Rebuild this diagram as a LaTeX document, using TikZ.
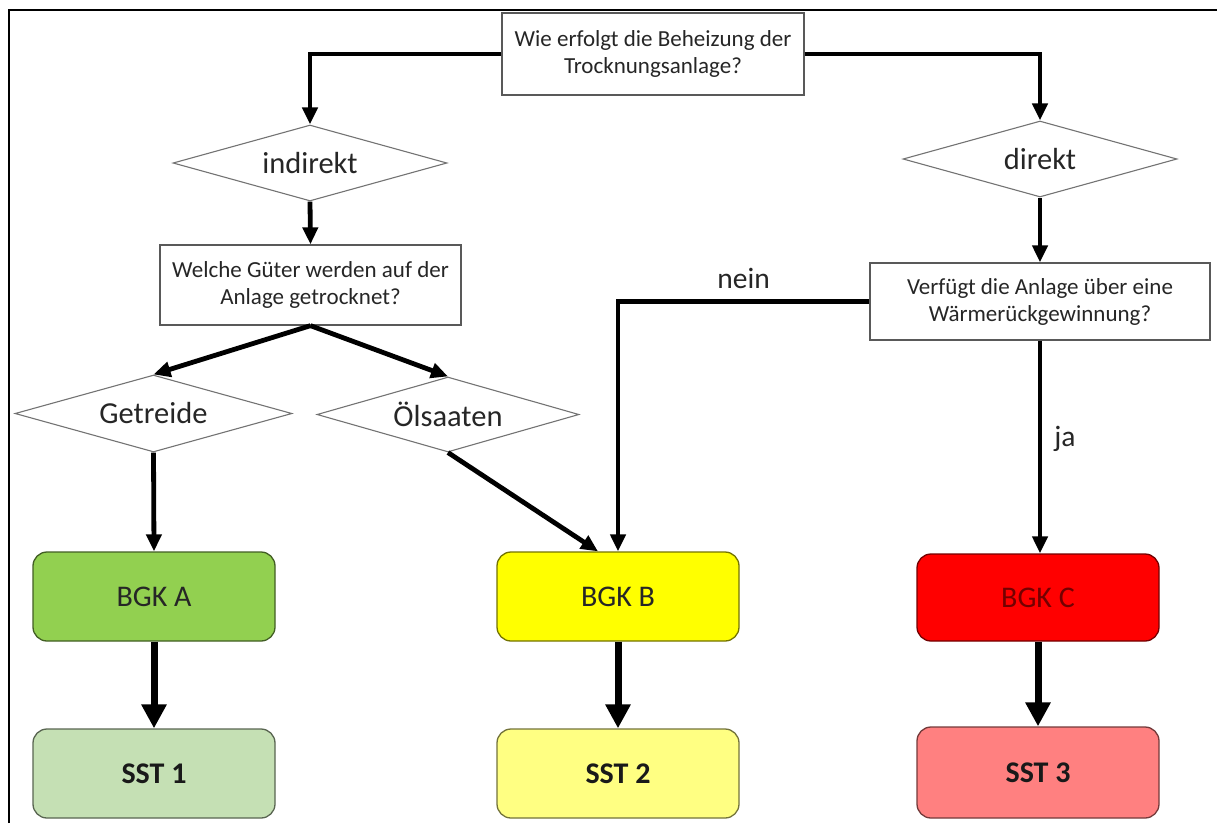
\documentclass[tikz,border=0pt]{standalone}
\usepackage{fontspec}
\setmainfont{Carlito}
\usetikzlibrary{shapes.geometric,arrows.meta,calc}
\definecolor{txt}{HTML}{262626}
\definecolor{bgkA}{HTML}{92D050}
\definecolor{sstA}{HTML}{C5E0B4}
\definecolor{bgkB}{HTML}{FFFF00}
\definecolor{sstB}{HTML}{FFFF82}
\definecolor{bgkC}{HTML}{FF0000}
\definecolor{sstC}{HTML}{FF8080}
\tikzset{
  qbox/.style={draw=black!65, line width=1.3pt, fill=white, inner sep=0pt, align=center,
    text=txt, font=\fontsize{23}{27}\selectfont},
  dia/.style={diamond, draw=black!55, line width=1.1pt, fill=white, inner sep=0pt,
    minimum width=274pt, minimum height=76pt, aspect=3.6, text=txt,
    font=\fontsize{30.5}{34}\selectfont},
  rbox/.style={rectangle, rounded corners=14pt, line width=1.3pt, minimum width=242pt,
    minimum height=89pt, inner sep=0pt, text=txt, font=\fontsize{30}{34}\selectfont},
  sbox/.style={rbox, font=\bfseries\fontsize{30}{34}\selectfont, text=black!90},
  conn/.style={line width=4.8pt, -{Triangle[length=17pt,width=15pt]}},
  bigconn/.style={line width=7pt, -{Triangle[length=24pt,width=24pt]}},
  lab/.style={text=txt, font=\fontsize{29.5}{32}\selectfont, inner sep=0pt}
}
\begin{document}
\begin{tikzpicture}[x=1pt,y=-1pt]
\useasboundingbox (0,0) rectangle (1217,823);
% frame
\draw[line width=2.5pt] (9,823) -- (9,10) -- (1217,10);

% nodes
\node[qbox, minimum width=302pt, minimum height=82pt] (q1) at (653,54)
  {Wie erfolgt die Beheizung der\\Trocknungsanlage?};
\node[dia] (ind) at (310,163) {indirekt};
\node[dia] (dir) at (1040,159) {direkt};
\node[qbox, minimum width=301pt, minimum height=80pt] (q2) at (310.5,285)
  {Welche Güter werden auf der\\Anlage getrocknet?};
\node[qbox, minimum width=340pt, minimum height=77pt] (q3) at (1040,301.5)
  {Verfügt die Anlage über eine\\Wärmerückgewinnung?};
\node[dia, minimum width=277pt, minimum height=77pt] (get) at (153.5,413.5) {Getreide};
\node[dia, minimum width=262pt, minimum height=75pt] (oel) at (448,414.5) {Ölsaaten};

\node[rbox, fill=bgkA, draw=black!55!bgkA] (bgka) at (154,596.5) {BGK A};
\node[rbox, fill=bgkB, draw=black!55!bgkB] (bgkb) at (618,596.5) {BGK B};
\node[rbox, fill=bgkC, draw=black!55!bgkC, minimum height=87pt, text=black!55!bgkC] (bgkc) at (1038,597.5) {BGK C};
\node[sbox, fill=sstA, draw=black!55!sstA] (ssta) at (154,773.5) {SST 1};
\node[sbox, fill=sstB, draw=black!55!sstB] (sstb) at (618,773.5) {SST 2};
\node[sbox, fill=sstC, draw=black!55!sstC, minimum height=91pt] (sstc) at (1038,772.5) {SST 3};

% connectors
\draw[conn] (q1.west) -| (ind.north);
\draw[conn] (q1.east) -| (dir.north);
\draw[conn] (ind.south) -- (q2.north);
\draw[conn] (dir.south) -- (q3.north);
\draw[conn] (q2.south) -- (get.north);
\draw[conn] (q2.south) -- (oel.north);
\draw[conn] (get.south) -- (bgka.north);
\draw[conn] (oel.south) -- ($(bgkb.north)+(-20,0)$);
\draw[conn] (q3.west) -| node[lab, pos=0.25, above=10pt] (nein) {nein} (bgkb.north);
\draw[conn] (q3.south) -- node[lab, pos=0.46, right=12pt] (ja) {ja} (bgkc.north -| q3.south);
\draw[bigconn] (bgka.south) -- (ssta.north);
\draw[bigconn] (bgkb.south) -- (sstb.north);
\draw[bigconn] (bgkc.south) -- (sstc.north);
\end{tikzpicture}
\end{document}
